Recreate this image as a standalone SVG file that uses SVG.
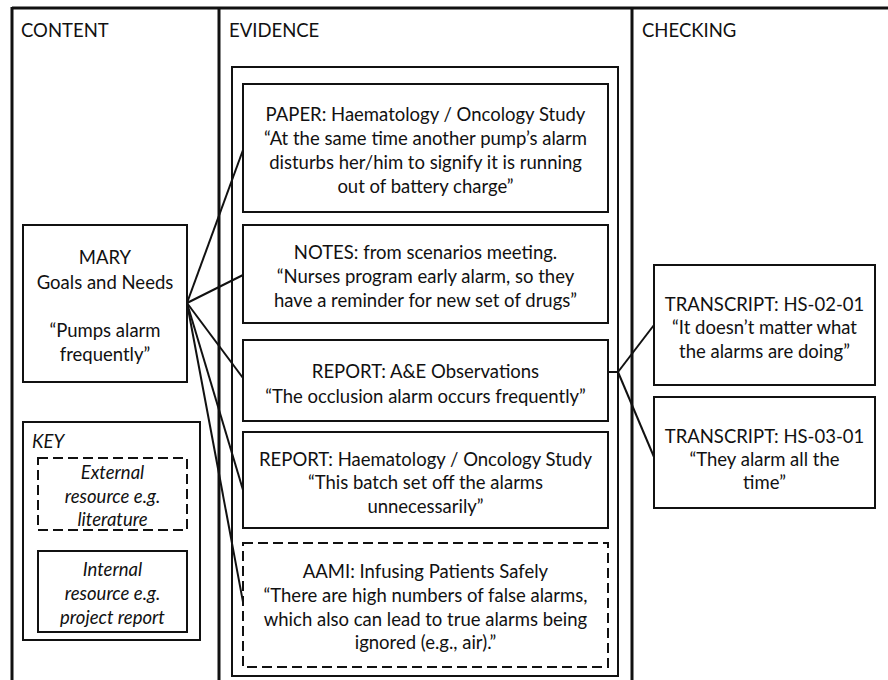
<svg xmlns="http://www.w3.org/2000/svg" width="888" height="680" viewBox="0 0 888 680">
<style>
text{font-family:Lato,"Liberation Sans",sans-serif;font-size:18.5px;fill:#111;text-anchor:middle}
.hd{text-anchor:start}
.it{font-style:italic}
.frame{stroke:#111;stroke-width:3;fill:none}
.box{stroke:#111;stroke-width:2;fill:#fff}
.dash{stroke:#111;stroke-width:2;fill:#fff;stroke-dasharray:10 5}
.con{stroke:#111;stroke-width:2;fill:none}
</style>
<rect width="888" height="680" fill="#fff"/>
<g id="frame">
<line class="frame" x1="12" y1="8" x2="888" y2="8"/>
<line class="frame" x1="12" y1="7" x2="12" y2="680"/>
<line class="frame" x1="219" y1="7" x2="219" y2="680"/>
<line class="frame" x1="632" y1="7" x2="632" y2="680"/>
<text class="hd" x="21" y="37">CONTENT</text>
<text class="hd" x="229" y="37">EVIDENCE</text>
<text class="hd" x="642" y="37">CHECKING</text>
</g>
<g id="evidence-panel"><rect class="box" x="232" y="67" width="386" height="609"/></g>
<g id="connectors">
<line class="con" x1="187" y1="303" x2="243" y2="150"/>
<line class="con" x1="187" y1="303" x2="243" y2="275"/>
<line class="con" x1="187" y1="303" x2="243" y2="378"/>
<line class="con" x1="187" y1="303" x2="243" y2="490"/>
<line class="con" x1="187" y1="303" x2="243" y2="602"/>
<line class="con" x1="608" y1="372" x2="618" y2="372"/>
<line class="con" x1="618" y1="372" x2="654" y2="325"/>
<line class="con" x1="618" y1="372" x2="654" y2="457"/>
</g>
<g id="mary">
<rect class="box" x="23" y="225" width="164" height="157"/>
<text x="105" y="264">MARY</text>
<text x="105" y="289">Goals and Needs</text>
<text x="105" y="337">“Pumps alarm</text>
<text x="105" y="361">frequently”</text>
</g>
<g id="key">
<rect class="box" x="23" y="422" width="177" height="218"/>
<text class="hd it" x="32" y="448">KEY</text>
<rect class="dash" x="38" y="458" width="149" height="72"/>
<text class="it" x="112.5" y="479">External</text>
<text class="it" x="112.5" y="503">resource e.g.</text>
<text class="it" x="112.5" y="526">literature</text>
<rect class="box" x="38" y="551" width="149" height="81"/>
<text class="it" x="112.5" y="576">Internal</text>
<text class="it" x="112.5" y="600">resource e.g.</text>
<text class="it" x="112.5" y="624">project report</text>
</g>
<g id="ev1">
<rect class="box" x="243" y="84" width="365" height="128"/>
<text x="425.5" y="121">PAPER: Haematology / Oncology Study</text>
<text x="425.5" y="145">“At the same time another pump’s alarm</text>
<text x="425.5" y="169">disturbs her/him to signify it is running</text>
<text x="425.5" y="193">out of battery charge”</text>
</g>
<g id="ev2">
<rect class="box" x="243" y="225" width="365" height="98"/>
<text x="425.5" y="259">NOTES: from scenarios meeting.</text>
<text x="425.5" y="283">“Nurses program early alarm, so they</text>
<text x="425.5" y="307">have a reminder for new set of drugs”</text>
</g>
<g id="ev3">
<rect class="box" x="243" y="340" width="365" height="81"/>
<text x="425.5" y="378">REPORT: A&amp;E Observations</text>
<text x="425.5" y="403">“The occlusion alarm occurs frequently”</text>
</g>
<g id="ev4">
<rect class="box" x="243" y="432" width="365" height="96"/>
<text x="425.5" y="466">REPORT: Haematology / Oncology Study</text>
<text x="425.5" y="489">“This batch set off the alarms</text>
<text x="425.5" y="513">unnecessarily”</text>
</g>
<g id="ev5">
<rect class="dash" x="243" y="543" width="365" height="124"/>
<text x="425.5" y="578">AAMI: Infusing Patients Safely</text>
<text x="425.5" y="602">“There are high numbers of false alarms,</text>
<text x="425.5" y="626">which also can lead to true alarms being</text>
<text x="425.5" y="649">ignored (e.g., air).”</text>
</g>
<g id="tr1">
<rect class="box" x="654" y="265" width="221" height="120"/>
<text x="764.5" y="311">TRANSCRIPT: HS-02-01</text>
<text x="764.5" y="334">“It doesn’t matter what</text>
<text x="764.5" y="358">the alarms are doing”</text>
</g>
<g id="tr2">
<rect class="box" x="654" y="397" width="221" height="111"/>
<text x="764.5" y="443">TRANSCRIPT: HS-03-01</text>
<text x="764.5" y="466">“They alarm all the</text>
<text x="764.5" y="489">time”</text>
</g>
</svg>
